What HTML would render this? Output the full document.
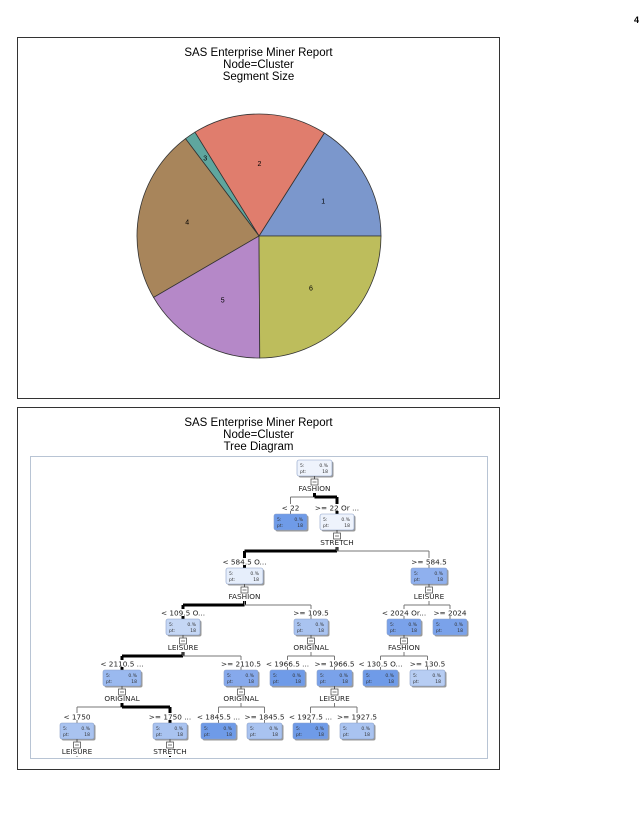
<!DOCTYPE html>
<html><head><meta charset="utf-8">
<style>
body{margin:0;background:#fff;width:642px;height:815px;position:relative;font-family:"Liberation Sans",sans-serif;overflow:hidden}
.frame{position:absolute;border:1px solid #333;background:#fff}
.title{position:absolute;left:0;width:100%;text-align:center;font-size:11.5px;line-height:12px;color:#000}
</style></head><body>
<div style="position:absolute;left:634px;top:15px;font-size:9px;font-weight:bold">4</div>

<div class="frame" style="left:17px;top:37px;width:481px;height:360px">
  <div class="title" style="top:9px">SAS Enterprise Miner Report<br>Node=Cluster<br>Segment Size</div>
</div>
<svg id="pie" style="position:absolute;left:0;top:0" width="642" height="400"></svg>

<div class="frame" style="left:17px;top:407px;width:481px;height:361px">
  <div class="title" style="top:9px">SAS Enterprise Miner Report<br>Node=Cluster<br>Tree Diagram</div>
  <div style="position:absolute;left:12px;top:48px;width:456px;height:301px;border:1px solid #b8c4d4"></div>
</div>
<svg id="tree" style="position:absolute;left:0;top:0" width="642" height="815" font-family="DejaVu Sans, sans-serif"></svg>

<script>
const segments = ["1","2","3","4","5","6"];
const shares = [16.0, 17.8, 1.5, 23.1, 16.7, 24.9];
const colors = ["#7b97cc","#e07d6d","#5fa69e","#a8855b","#b588c8","#bdbd5c"];
const NS="http://www.w3.org/2000/svg";
const pie=document.getElementById('pie');
const cx=259, cy=236, r=122;
const total=shares.reduce((a,b)=>a+b,0);
function pt(a,rr){return [cx+rr*Math.cos(a), cy-rr*Math.sin(a)];}
let a0=0;
shares.forEach((v,i)=>{
  const a1=a0+v/total*2*Math.PI;
  const p0=pt(a0,r), p1=pt(a1,r);
  const large=(a1-a0)>Math.PI?1:0;
  const p=document.createElementNS(NS,'path');
  p.setAttribute('d',`M${cx},${cy} L${p0[0]},${p0[1]} A${r},${r} 0 ${large} 0 ${p1[0]},${p1[1]} Z`);
  p.setAttribute('fill',colors[i]);p.setAttribute('stroke','#333');p.setAttribute('stroke-width','0.8');
  
  
  pie.appendChild(p);
  const m=(a0+a1)/2, lp=pt(m, i===2?r*0.78:r*0.6);
  const t=document.createElementNS(NS,'text');
  t.setAttribute('x',lp[0]);t.setAttribute('y',lp[1]+3);t.setAttribute('font-size','7');t.setAttribute('text-anchor','middle');
  t.textContent=segments[i];
  
  
  pie.appendChild(t);
  a0=a1;
});

// tree: [id, parent, rule, x, y(box top), w, fill, splitVar, thick]
const nodes=[
 ["n0",null,"",297,460,35,"#eef3fc","FASHION",0],
 ["n1","n0","< 22",274,514,33,"#6f9be8","",0],
 ["n2","n0",">= 22 Or ...",320,514,34,"#eef3fc","STRETCH",1],
 ["n3","n2","< 584.5 O...",226,568,37,"#e6eefb","FASHION",1],
 ["n4","n2",">= 584.5",411,568,36,"#8fb0ee","LEISURE",0],
 ["n5","n3","< 109.5 O...",166,619,34,"#c5d7f5","LEISURE",1],
 ["n6","n3",">= 109.5",294,619,34,"#a9c3f0","ORIGINAL",0],
 ["n7","n4","< 2024 Or...",387,619,34,"#7aa2ea","FASHION",0],
 ["n8","n4",">= 2024",433,619,34,"#7aa2ea","",0],
 ["n9","n5","< 2110.5 ...",103,670,38,"#9ab9ef","ORIGINAL",1],
 ["n10","n5",">= 2110.5",224,670,34,"#86a9ec","ORIGINAL",0],
 ["n11","n6","< 1966.5 ...",270,670,35,"#6f9be8","",0],
 ["n12","n6",">= 1966.5",317,670,35,"#7aa2ea","LEISURE",0],
 ["n13","n7","< 130.5 O...",363,670,35,"#6f9be8","",0],
 ["n14","n7",">= 130.5",410,670,35,"#b7cdf3","",0],
 ["n15","n9","< 1750",60,723,34,"#a9c3f0","LEISURE",0],
 ["n16","n9",">= 1750 ...",153,723,34,"#a9c3f0","STRETCH",1],
 ["n17","n10","< 1845.5 ...",201,723,35,"#6f9be8","",0],
 ["n18","n10",">= 1845.5",247,723,35,"#a9c3f0","",0],
 ["n19","n12","< 1927.5 ...",293,723,35,"#6f9be8","",0],
 ["n20","n12",">= 1927.5",340,723,34,"#a9c3f0","",0]
];
const tree=document.getElementById('tree');
const byId={};nodes.forEach(n=>byId[n[0]]=n);
function el(tag,attrs,name,txt){const e=document.createElementNS(NS,tag);for(const k in attrs)e.setAttribute(k,attrs[k]);
 
 
 if(txt!==undefined)e.textContent=txt;tree.appendChild(e);return e;}
// connectors
nodes.forEach(n=>{
  if(!n[1])return;
  const p=byId[n[1]];
  const px=p[3]+p[5]/2, cxn=n[3]+n[5]/2;
  const barY=p[4]+37, sw=n[8]?3:1, col=n[8]?"#000":"#777";
  el('line',{x1:px,y1:p[4]+33,x2:px,y2:barY,stroke:n[8]?"#000":"#777","stroke-width":n[8]?3:1},'connector-stem');
  el('line',{x1:px,y1:barY,x2:cxn,y2:barY,stroke:col,"stroke-width":sw},'connector-bar');
  el('line',{x1:cxn,y1:barY,x2:cxn,y2:n[4]-10,stroke:col,"stroke-width":sw},'connector-drop');
  el('line',{x1:cxn,y1:n[4]-3,x2:cxn,y2:n[4],stroke:col,"stroke-width":sw},'connector-drop');
});
nodes.forEach(n=>{
  const [id,par,rule,x,y,w,fill,sv]=n, c=x+w/2;
  if(rule) el('text',{x:c,y:y-3.5,"font-size":"7.3","text-anchor":"middle",fill:"#222"},'split-rule-'+id,rule);
  el('rect',{x:x+1.5,y:y+1.5,width:w,height:16,rx:2,fill:"#999"},'node-shadow');
  const b=el('rect',{x:x,y:y,width:w,height:16,rx:2,fill:fill,stroke:"#8aa0c8","stroke-width":0.6},'tree-node-'+id);
  
  el('text',{x:x+3,y:y+7,"font-size":"4.5",fill:"#333"},'node-stat','5:');
  el('text',{x:x+3,y:y+13,"font-size":"4.5",fill:"#333"},'node-stat','pt:');
  el('text',{x:x+w-4,y:y+7,"font-size":"4.5","text-anchor":"end",fill:"#333"},'node-stat','0.%');
  el('text',{x:x+w-4,y:y+13,"font-size":"4.5","text-anchor":"end",fill:"#333"},'node-stat','18');
  if(sv){
    el('line',{x1:c,y1:y+16,x2:c,y2:y+19,stroke:"#555"},'expander-stem');
    el('rect',{x:c-3.5,y:y+19,width:7,height:6,fill:"#fff",stroke:"#555","stroke-width":0.8},'expander-icon-'+id);
    el('line',{x1:c-2,y1:y+22,x2:c+2,y2:y+22,stroke:"#555","stroke-width":0.8},'expander-minus');
    el('text',{x:c,y:y+31,"font-size":"7.3","text-anchor":"middle",fill:"#222"},'split-variable-'+id,sv);
  }
});
[["n15"],["n16"]].forEach(a=>{const n=byId[a[0]],c=n[3]+n[5]/2;el('line',{x1:c,y1:n[4]+33,x2:c,y2:757,stroke:n[8]?"#000":"#777","stroke-width":n[8]?2:1},'connector-continue');});
</script>
</body></html>
